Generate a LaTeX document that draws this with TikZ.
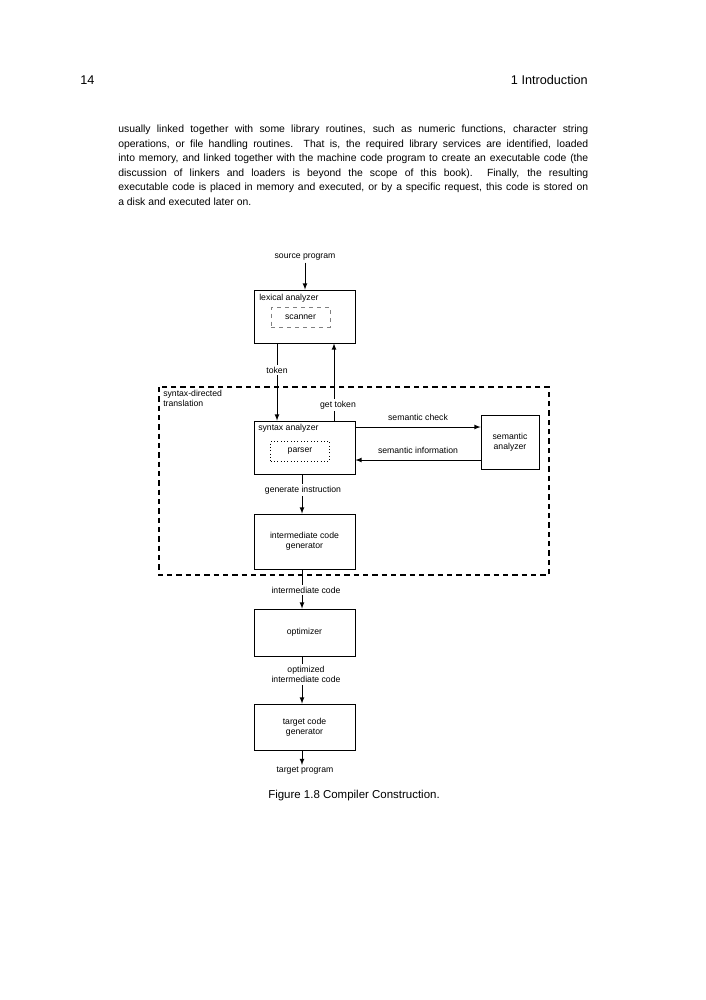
\documentclass[tikz,border=0pt]{standalone}
\usepackage{fontspec}
\setmainfont{Liberation Sans}
\newcommand{\figfont}{\fontsize{6.5}{7.8}\selectfont}
\newcommand{\bodyfont}{\fontsize{7.8}{10.95}\selectfont}
\tikzstyle{unit}=[draw, line width=0.6pt, minimum width=75.75pt, inner sep=0pt, align=center]
\tikzstyle{subunit}=[minimum width=44pt, minimum height=15pt, inner sep=0pt, line width=0.5pt]
\tikzstyle{unitname}=[anchor=north west, inner sep=0pt, align=left]
\tikzstyle{flowtext}=[align=center, inner sep=1.5pt]
\tikzstyle{flow}=[-latex, line width=0.6pt]
\tikzstyle{region}=[line width=0.9pt, dash pattern=on 4pt off 3pt]

\begin{document}
\begin{tikzpicture}[x=0.75pt, y=-0.75pt, every node/.style={font=\figfont}]
  \fill[white] (0,0) rectangle (706,1000);
  \useasboundingbox (0,0) rectangle (706,1000);
  % page text
  \node[anchor=base west, inner sep=0pt, font=\fontsize{9.5}{11}\selectfont] (pageno) at (80,84) {14};
  \node[anchor=base east, inner sep=0pt, font=\fontsize{9.5}{11}\selectfont] (chapter) at (588,84) {1 Introduction};
  \node[anchor=base west, inner sep=0pt, text width=352.5pt, align=justify, font=\bodyfont] (para) at (118,132.5)
    {usually linked together with some library routines, such as numeric functions, character string\linebreak
     operations, or file handling routines.\ \ That is, the required library services are identified, loaded\linebreak
     into memory, and linked together with the machine code program to create an executable code (the\linebreak
     discussion of linkers and loaders is beyond the scope of this book).\ \ Finally, the resulting\linebreak
     executable code is placed in memory and executed, or by a specific request, this code is stored on\linebreak
     a disk and executed later on.};
  % figure
  \draw[region] (159,387) rectangle (549,575);
  \node[unitname] (sdt) at (163,390) {syntax-directed\\translation};
  \node[flowtext] (src) at (305,257) {source program};
  \node[unit, minimum height=39.75pt] (lex) at (304.5,316.5) {};
  \node[unitname] (lexname) at (259,294) {lexical analyzer};
  \node[subunit, draw=gray, dashed] (scan) at (300.5,317) {scanner};
  \node[unit, minimum height=39.75pt] (syn) at (304.5,447.5) {};
  \node[unitname] (synname) at (258,424) {syntax analyzer};
  \node[subunit, draw, dotted] (pars) at (300,451) {parser};
  \node[unit, minimum width=43.5pt, minimum height=40.5pt] (sem) at (510,442) {semantic\\analyzer};
  \node[unit, minimum height=41.25pt] (icg) at (304.5,541.5) {intermediate code\\generator};
  \node[unit, minimum height=35.25pt] (opt) at (304.5,632.5) {optimizer};
  \node[unit, minimum height=34.5pt] (tcg) at (304.5,727) {target code\\generator};
  \node[flowtext] (tok) at (277,370) {token};
  \node[flowtext] (gtok) at (338,405) {get token};
  \node[flowtext] (gen) at (303,490) {generate instruction};
  \node[flowtext] (imc) at (306,590) {intermediate code};
  \node[flowtext] (oic) at (306,674.5) {optimized\\intermediate code};
  \node[flowtext] (tgt) at (305,771) {target program};
  \coordinate (tx) at (277,0);
  \coordinate (gx) at (334,0);
  \coordinate (vx) at (302,0);
  \coordinate (chk) at (0,427);
  \coordinate (inf) at (0,460);
  \draw[flow] (src) -- (src |- lex.north);
  \draw[line width=0.6pt] (lex.south -| tx) -- (tok);
  \draw[flow] (tok) -- (syn.north -| tx);
  \draw[flow] (gtok.north -| gx) -- (lex.south -| gx);
  \draw[line width=0.6pt] (syn.north -| gx) -- (gtok.south -| gx);
  \draw[flow] (syn.east |- chk) -- node[flowtext, above=3pt] (chkname) {semantic check} (sem.west |- chk);
  \draw[flow] (sem.west |- inf) -- node[flowtext, above=3pt] (infname) {semantic information} (syn.east |- inf);
  \draw[line width=0.6pt] (syn.south -| vx) -- (gen.north -| vx);
  \draw[flow] (gen.south -| vx) -- (icg.north -| vx);
  \draw[line width=0.6pt] (icg.south -| vx) -- (imc.north -| vx);
  \draw[flow] (imc.south -| vx) -- (opt.north -| vx);
  \draw[line width=0.6pt] (opt.south -| vx) -- (oic.north -| vx);
  \draw[flow] (oic.south -| vx) -- (tcg.north -| vx);
  \draw[flow] (tcg.south -| vx) -- (tgt.north -| vx);
  \node[font=\fontsize{8.6}{10}\selectfont] (cap) at (354,796) {Figure 1.8 Compiler Construction.};
\end{tikzpicture}
\end{document}
